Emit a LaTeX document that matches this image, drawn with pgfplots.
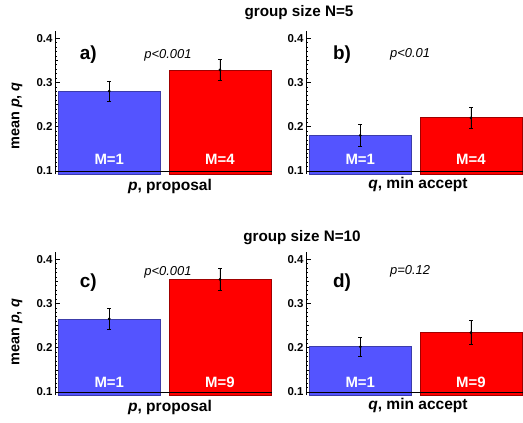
\documentclass[border=0pt]{standalone}
\usepackage{pgfplots}
\pgfplotsset{compat=1.18}
\usepackage{fontspec}
\setmainfont{Liberation Sans}
\definecolor{mblue}{RGB}{84,84,255}
\definecolor{mblueedge}{RGB}{60,60,170}
\definecolor{mred}{RGB}{255,0,0}
\definecolor{mrededge}{RGB}{160,0,0}
\pgfplotsset{
  panel/.style={
    scale only axis, width=217bp, height=143bp,
    xmin=-0.49, xmax=1.47, ymin=0.093, ymax=0.416,
    axis y line=left, axis x line=bottom,
    x axis line style={draw=none}, y axis line style={-, line width=0.6pt},
    xtick=\empty, ytick={0.1,0.2,0.3,0.4}, minor y tick num=9,
    extra y ticks={0.15,0.25,0.35}, extra y tick labels={},
    extra y tick style={major tick length=3bp},
    tick align=inside, major tick length=4.5bp, minor tick length=1.8bp,
    tick style={line width=0.5pt, black},
    yticklabel style={font=\bfseries\fontsize{11.5}{13}\selectfont, xshift=1bp},
    /pgf/number format/.cd, fixed, fixed zerofill, precision=1, assume math mode=true,
    /pgfplots/.cd,
    anchor=south west,
  },
  barstyle/.style={ybar, bar width=0.92, bar shift=0pt, line width=0.7pt,
    mark=*, mark size=1bp, mark options={fill=black, draw=black},
    error bars/.cd, y dir=both, y explicit, error mark=|,
    error bar style={black, line width=0.8pt},
    error mark options={black, mark size=1.8bp, line width=0.8pt},
    /pgfplots/.cd},
  blueb/.style={barstyle, fill=mblue, draw=mblueedge},
  redb/.style={barstyle, fill=mred, draw=mrededge},
}
\newcommand{\Mfont}{\bfseries\fontsize{15}{17}\selectfont}
\newcommand{\Pfont}{\itshape\fontsize{13}{15}\selectfont}
\newcommand{\Lfont}{\bfseries\fontsize{19}{21}\selectfont}
\newcommand{\Xfont}{\bfseries\fontsize{15.6}{17}\selectfont}
\newcommand{\Yfont}{\bfseries\fontsize{14.5}{16}\selectfont}
\newcommand{\Tfont}{\bfseries\fontsize{15.3}{17}\selectfont}
\begin{document}
\begin{tikzpicture}[x=1bp,y=1bp]
\path[use as bounding box] (0,0) rectangle (523,422);
% a)
\begin{axis}[panel, at={(55bp,248bp)}]
\addplot[blueb] coordinates {(0,0.280) +- (0,0.022)};
\addplot[redb] coordinates {(1,0.328) +- (0,0.024)};
\addplot[black, line width=0.6pt, mark=none] coordinates {(-0.49,0.1) (1.47,0.1)};
\node[font=\Lfont] at (axis cs:-0.19,0.362) {a)};
\node[font=\Pfont] at (axis cs:0.53,0.362) {p<0.001};
\node[white, font=\Mfont] at (axis cs:0,0.127) {M=1};
\node[white, font=\Mfont] at (axis cs:1,0.127) {M=4};
\end{axis}
% b)
\begin{axis}[panel, at={(306bp,248bp)}]
\addplot[blueb] coordinates {(0,0.180) +- (0,0.024)};
\addplot[redb] coordinates {(1,0.220) +- (0,0.024)};
\addplot[black, line width=0.6pt, mark=none] coordinates {(-0.49,0.1) (1.47,0.1)};
\node[font=\Lfont] at (axis cs:-0.165,0.362) {b)};
\node[font=\Pfont] at (axis cs:0.45,0.364) {p<0.01};
\node[white, font=\Mfont] at (axis cs:0,0.127) {M=1};
\node[white, font=\Mfont] at (axis cs:1,0.127) {M=4};
\end{axis}
% c)
\begin{axis}[panel, at={(55bp,27bp)}]
\addplot[blueb] coordinates {(0,0.265) +- (0,0.024)};
\addplot[redb] coordinates {(1,0.354) +- (0,0.024)};
\addplot[black, line width=0.6pt, mark=none] coordinates {(-0.49,0.1) (1.47,0.1)};
\node[font=\Lfont] at (axis cs:-0.19,0.346) {c)};
\node[font=\Pfont] at (axis cs:0.53,0.371) {p<0.001};
\node[white, font=\Mfont] at (axis cs:0,0.122) {M=1};
\node[white, font=\Mfont] at (axis cs:1,0.122) {M=9};
\end{axis}
% d)
\begin{axis}[panel, at={(306bp,27bp)}]
\addplot[blueb] coordinates {(0,0.202) +- (0,0.021)};
\addplot[redb] coordinates {(1,0.234) +- (0,0.027)};
\addplot[black, line width=0.6pt, mark=none] coordinates {(-0.49,0.1) (1.47,0.1)};
\node[font=\Lfont] at (axis cs:-0.165,0.346) {d)};
\node[font=\Pfont] at (axis cs:0.45,0.373) {p=0.12};
\node[white, font=\Mfont] at (axis cs:0,0.122) {M=1};
\node[white, font=\Mfont] at (axis cs:1,0.122) {M=9};
\end{axis}
% titles and labels
\node[font=\Tfont] at (299,409) {group size N=5};
\node[font=\Tfont] at (302,184) {group size N=10};
\node[font=\Xfont, anchor=base] at (170,232) {{\itshape p}, proposal};
\node[font=\Xfont, anchor=base] at (418,234) {{\itshape q}, min accept};
\node[font=\Xfont, anchor=base] at (170,11) {{\itshape p}, proposal};
\node[font=\Xfont, anchor=base] at (418,13) {{\itshape q}, min accept};
\node[font=\Yfont, rotate=90] at (17,306) {mean {\itshape p}, {\itshape q}};
\node[font=\Yfont, rotate=90] at (17,90) {mean {\itshape p}, {\itshape q}};
\end{tikzpicture}
\end{document}
